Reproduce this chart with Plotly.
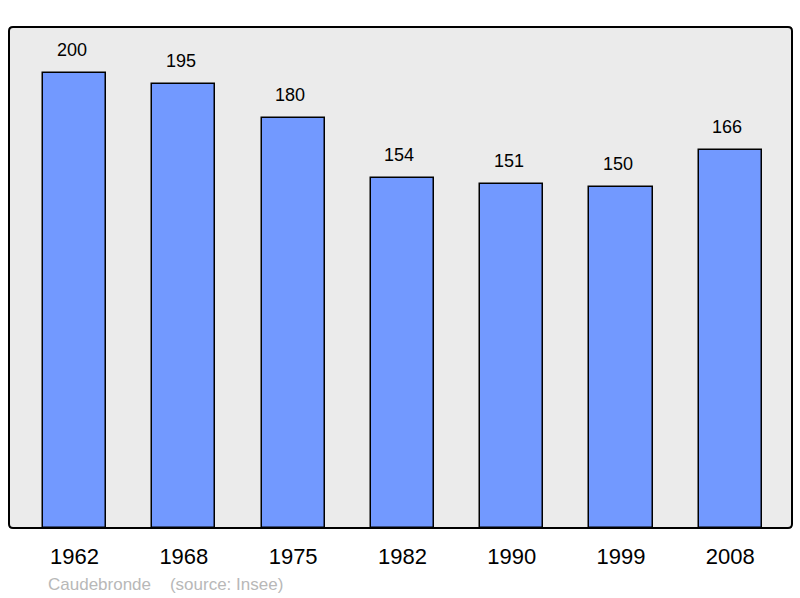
import plotly.graph_objects as go

years = ["1962", "1968", "1975", "1982", "1990", "1999", "2008"]
population = [200, 195, 180, 154, 151, 150, 166]
commune = "Caudebronde"
source = "(source: Insee)"

W, H = 800, 598
ML, MR, MT, MB = 9, 8, 27, 70

fig = go.Figure()
fig.add_trace(go.Bar(
    x=years, y=population, width=0.578,
    marker=dict(color="#7299ff", line=dict(color="#000000", width=1.5)),
    hoverinfo="skip",
))
for i, v in enumerate(population):
    fig.add_annotation(x=i, y=v, text=str(v), showarrow=False,
                       yanchor="bottom", yshift=11, xshift=-3,
                       font=dict(size=18, color="#000000", family="Liberation Sans, Arial"))

fig.add_annotation(xref="paper", yref="paper", x=37 / (W - ML - MR), y=0,
                   xanchor="left", yanchor="middle",
                   yshift=-56, showarrow=False,
                   text=commune + "&nbsp;&nbsp;&nbsp;&nbsp;" + source,
                   font=dict(size=17, color="#b8b8b8", family="Liberation Sans, Arial"))

# rounded plot frame
rx = 4 / (W - ML - MR)
ry = 4 / (H - MT - MB)
path = (f"M {rx},0 L {1-rx},0 Q 1,0 1,{ry} L 1,{1-ry} Q 1,1 {1-rx},1 "
        f"L {rx},1 Q 0,1 0,{1-ry} L 0,{ry} Q 0,0 {rx},0 Z")
fig.add_shape(type="path", xref="paper", yref="paper", path=path,
              line=dict(color="#000000", width=2), layer="above")

fig.update_layout(
    width=W, height=H,
    margin=dict(l=ML, r=MR, t=MT, b=MB),
    paper_bgcolor="#ffffff", plot_bgcolor="#ebebeb",
    showlegend=False,
    bargap=0,
    font=dict(family="Liberation Sans, Arial", color="#000000"),
    xaxis=dict(type="category", range=[-0.6, 6.565], showgrid=False, zeroline=False,
               ticks="", tickfont=dict(size=22), ticklabelstandoff=13, showline=False),
    yaxis=dict(range=[0, 220.2], showgrid=False, zeroline=False, showticklabels=False,
               ticks="", showline=False),
)
fig.write_html("out.html", config={"displayModeBar": False},
               post_script="document.body.style.margin='0';document.body.style.overflow='hidden';")
